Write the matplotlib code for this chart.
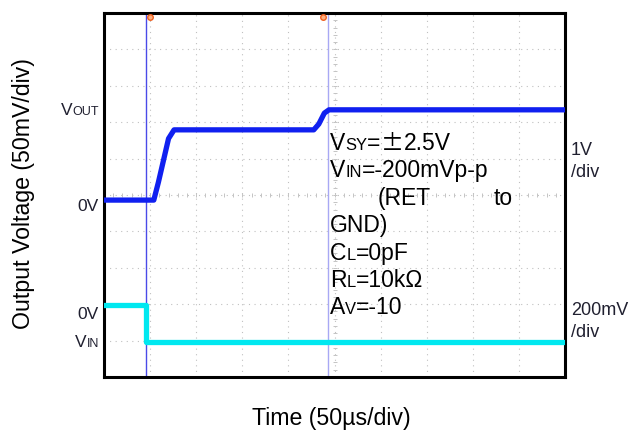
import numpy as np
import matplotlib
matplotlib.use("Agg")
import matplotlib.pyplot as plt

# time axis in divisions (50us/div), screen position in divisions (0..10)
t_out = [0.0, 1.08, 1.18, 1.40, 1.52, 4.55, 4.66, 4.78, 4.88, 10.0]
v_out = [4.86, 4.86, 5.35, 6.55, 6.79, 6.79, 6.95, 7.25, 7.34, 7.34]
t_in = [0.0, 0.91, 0.91, 10.0]
v_in = [1.98, 1.98, 0.96, 0.96]
cursors = [0.91, 4.86]
cursor_marks = [1.0, 4.76]

cond_lines = [
    [("V", 1.0), ("SY", 0.72), ("=", 1.0), ("\u00b1", 1.0, "cjk"), ("2.5V", 1.0)],
    [("V", 1.0), ("IN", 0.72), ("=-200mVp-p", 1.0)],
    None,
    [("GND)", 1.0)],
    [("C", 1.0), ("L", 0.72), ("=0pF", 1.0)],
    [("R", 1.0), ("L", 0.72), ("=10k\u03a9", 1.0)],
    [("A", 1.0), ("V", 0.72), ("=-10", 1.0)],
]

W, H = 635, 437
fig = plt.figure(figsize=(W / 100, H / 100), dpi=100)
ax = fig.add_axes([104 / W, (H - 377) / H, 461 / W, 364 / H])
ax.set_xlim(0, 10)
ax.set_ylim(0, 10)
ax.set_xticks([])
ax.set_yticks([])
for s in ax.spines.values():
    s.set_linewidth(2.2)
    s.set_color("black")

# scope graticule
for k in range(1, 10):
    ax.axvline(k, color="#c0c0c0", lw=0.8, ls=(0, (1, 4)), zorder=0)
    ax.axhline(k, color="#c0c0c0", lw=0.8, ls=(0, (1, 4)), zorder=0)
minor = np.arange(0.2, 10, 0.2)
ax.plot(np.full_like(minor, 5), minor, ls="none", marker="_", ms=3,
        color="#c4c4c4", mew=0.7, zorder=0)
ax.plot(minor, np.full_like(minor, 5), ls="none", marker="|", ms=3,
        color="#c4c4c4", mew=0.7, zorder=0)

# cursors
ax.axvline(cursors[0], color="#4a4ae8", lw=1.0, zorder=1)
ax.axvline(cursors[1], color="#a8a8f4", lw=1.0, zorder=1)
ax.plot(cursor_marks, [9.88, 9.88], ls="none", marker="o", ms=4,
        mfc="#ffb080", mec="#f06020", mew=1, zorder=5, clip_on=False)

ax.plot(t_out, v_out, color="#1020f0", lw=3.8, solid_joinstyle="round", zorder=3)
ax.plot(t_in, v_in, color="#00e8f0", lw=3.8, zorder=3)

lab_col = "#202030"
renderer = fig.canvas.get_renderer()


def rich(x, y, segs, size, color="black", ha_right=False):
    # x, y in picture pixels (y from top), y is baseline
    pieces = []
    for seg in segs:
        txt, scale = seg[0], seg[1]
        fam = ["Noto Sans CJK JP", "DejaVu Sans"] if len(seg) > 2 else "Liberation Sans"
        t = fig.text(0, 0, txt, fontsize=size * scale, family=fam,
                     color=color, va="baseline", ha="left")
        pieces.append(t)
    widths = [p.get_window_extent(renderer).width for p in pieces]
    cx = x - sum(widths) if ha_right else x
    for p, w in zip(pieces, widths):
        p.set_position((cx / W, (H - y) / H))
        cx += w


# left labels
rich(99, 115, [("V", 1.0), ("OUT", 0.72)], 12.5, lab_col, True)
rich(99, 211, [("0V", 1.0)], 12.5, lab_col, True)
rich(99, 319, [("0V", 1.0)], 12.5, lab_col, True)
rich(99, 347, [("V", 1.0), ("IN", 0.72)], 12.5, lab_col, True)

# right labels
rich(571, 155, [("1V", 1.0)], 13, lab_col)
rich(571, 177, [("/div", 1.0)], 13, lab_col)
rich(571, 315, [("200mV", 1.0)], 13, lab_col)
rich(571, 337, [("/div", 1.0)], 13, lab_col)

# test conditions
base = 150
for i, line in enumerate(cond_lines):
    y = base + i * 27.4
    if line is None:
        rich(378, y, [("(RET", 1.0)], 16.5)
        rich(494, y, [("to", 1.0)], 16.5)
    else:
        rich(330, y, line, 16.5)

fig.text(24 / W, 1 - 194 / H, "Output Voltage (50mV/div)", rotation=90,
         ha="center", va="center", fontsize=16.7, family="Liberation Sans")
fig.text(331 / W, 1 - 418 / H, "Time (50\u00b5s/div)", ha="center",
         va="center", fontsize=16.7, family="Liberation Sans")

fig.savefig("out.png", dpi=100)
